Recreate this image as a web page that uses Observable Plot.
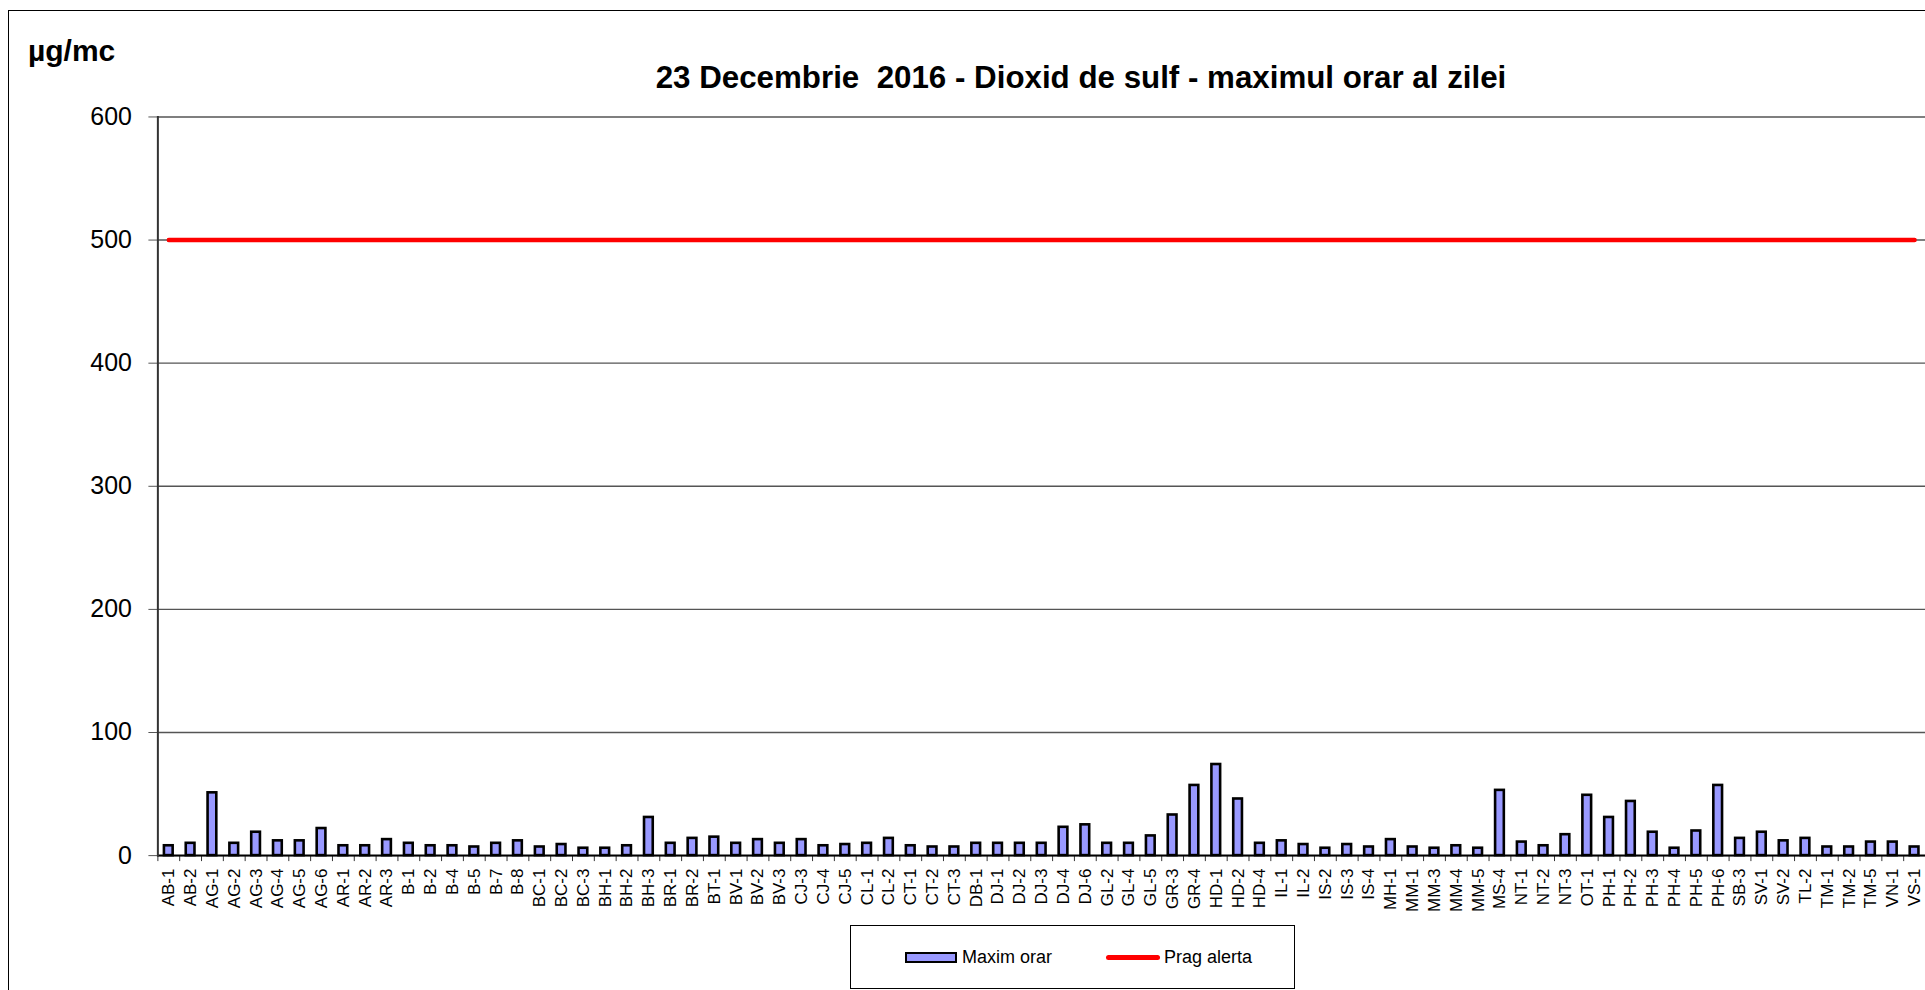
<!DOCTYPE html>
<html>
<head>
<meta charset="utf-8">
<script src="https://cdn.jsdelivr.net/npm/d3@7"></script>
<script src="https://cdn.jsdelivr.net/npm/@observablehq/plot@0.6"></script>
<style>
  html, body { margin: 0; padding: 0; overflow: hidden; background: #fff; }
  body { width: 1925px; height: 990px; position: relative; font-family: "Liberation Sans", Arial, sans-serif; color: #000; }
  #frame { position: absolute; left: 8px; top: 10px; width: 1960px; height: 1010px; border: 1.5px solid #000; box-sizing: border-box; }
  #unit { position: absolute; left: 28px; top: 36px; font-size: 30px; font-weight: bold; line-height: 1; }
  #title { position: absolute; left: 0; width: 2162px; top: 62px; text-align: center; font-size: 31.3px; font-weight: bold; line-height: 1; white-space: pre; }
  #chart { position: absolute; left: 0; top: 95px; }
  #legend { position: absolute; left: 850px; top: 925px; width: 445px; height: 64px; border: 1.5px solid #000; box-sizing: border-box; background: #fff; }
  .sw-bar { position: absolute; left: 54px; top: 26px; width: 52px; height: 11px; background: #9999FF; border: 2.5px solid #000; box-sizing: border-box; }
  .sw-line { position: absolute; left: 255px; top: 29px; width: 54px; height: 5px; background: #FF0000; border-radius: 2.5px; }
  .lg-text { position: absolute; top: 22px; font-size: 18px; line-height: 1; white-space: nowrap; }
</style>
</head>
<body>
<div id="frame"></div>
<div id="unit">µg/mc</div>
<div id="title">23 Decembrie  2016 - Dioxid de sulf - maximul orar al zilei</div>
<div id="chart"></div>
<div id="legend">
  <div class="sw-bar"></div><div class="lg-text" style="left:111px">Maxim orar</div>
  <div class="sw-line"></div><div class="lg-text" style="left:313px">Prag alerta</div>
</div>
<script>
const stations = ["AB-1","AB-2","AG-1","AG-2","AG-3","AG-4","AG-5","AG-6","AR-1","AR-2","AR-3",
  "B-1","B-2","B-4","B-5","B-7","B-8","BC-1","BC-2","BC-3","BH-1","BH-2","BH-3","BR-1","BR-2",
  "BT-1","BV-1","BV-2","BV-3","CJ-3","CJ-4","CJ-5","CL-1","CL-2","CT-1","CT-2","CT-3","DB-1",
  "DJ-1","DJ-2","DJ-3","DJ-4","DJ-6","GL-2","GL-4","GL-5","GR-3","GR-4","HD-1","HD-2","HD-4",
  "IL-1","IL-2","IS-2","IS-3","IS-4","MH-1","MM-1","MM-3","MM-4","MM-5","MS-4","NT-1","NT-2",
  "NT-3","OT-1","PH-1","PH-2","PH-3","PH-4","PH-5","PH-6","SB-3","SV-1","SV-2","TL-2","TM-1",
  "TM-2","TM-5","VN-1","VS-1"];

const maximOrar = [8,10,51,10,19,12,12,22,8,8,13,
  10,8,8,7,10,12,7,9,6,6,8,31,10,14,
  15,10,13,10,13,8,9,10,14,8,7,7,10,
  10,10,10,23,25,10,10,16,33,57,74,46,10,
  12,9,6,9,7,13,7,6,8,6,53,11,8,
  17,49,31,44,19,6,20,57,14,19,12,14,7,
  7,11,11,7];

const pragAlerta = 500;
const yTicks = [0, 100, 200, 300, 400, 500, 600];

const bars = stations.map((s, i) => ({station: s, value: maximOrar[i]}));
const alertLine = stations.map(s => ({station: s, prag: pragAlerta}));

const W = 1929, ML = 157.7, MR = 0;
const step = (W - ML - MR) / stations.length;

const chart = Plot.plot({
  width: W,
  height: 827,
  marginLeft: ML,
  marginRight: MR,
  marginTop: 21.5,
  marginBottom: 65.3,
  style: {fontFamily: "'Liberation Sans', Arial, sans-serif", color: "#000", background: "transparent", overflow: "visible"},
  x: {domain: stations, paddingInner: 0.6, paddingOuter: 0.3, label: null},
  y: {domain: [0, 600], label: null},
  marks: [
    Plot.gridY(yTicks, {stroke: "#555", strokeOpacity: 1, strokeWidth: 1.4}),
    Plot.axisY(yTicks, {tickSize: 9, tickPadding: 17, fontSize: 25, stroke: "#555", label: null}),
    Plot.axisX({tickSize: 6, tickFormat: () => "", dx: -step / 2, stroke: "#333", label: null}),
    Plot.axisX({tickSize: 0, tickPadding: 13, tickRotate: -90, fontSize: 17, label: null}),
    Plot.barY(bars, {x: "station", y: "value", fill: "#9999FF", stroke: "#000", strokeWidth: 2.6}),
    Plot.lineY(alertLine, {x: "station", y: "prag", stroke: "#FF0000", strokeWidth: 4.5}),
    Plot.ruleY([0], {stroke: "#000", strokeWidth: 2}),
    Plot.frame({anchor: "left", stroke: "#333", strokeWidth: 2})
  ]
});
document.getElementById("chart").appendChild(chart);
</script>
</body>
</html>
